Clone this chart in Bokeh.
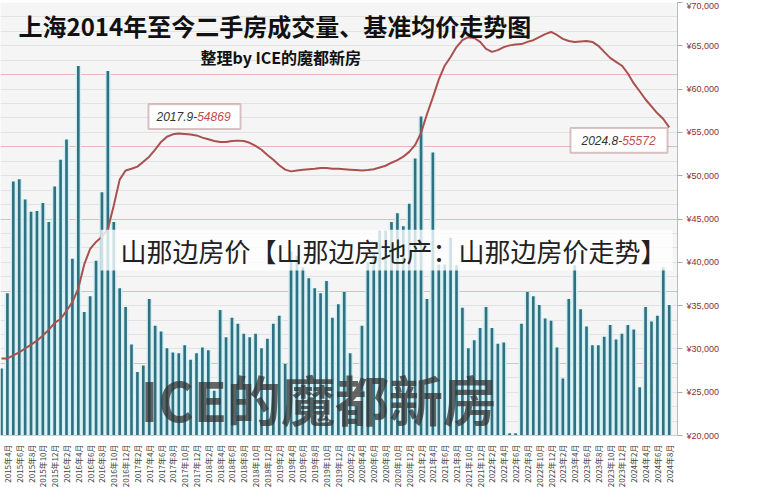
import math
from bokeh.plotting import figure
from bokeh.models import (Range1d, FixedTicker, Grid, Label, BoxAnnotation, ColumnDataSource)
from bokeh.embed import file_html
from bokeh.resources import INLINE

# ---------------- data ----------------
# months 2015-03 .. 2024-08
months = [f"{2015 + (2 + i) // 12}年{(2 + i) % 12 + 1}月" for i in range(114)]

volume = [9300, 19700, 35200, 35500, 32700, 31000, 31100, 32200, 29600, 34500,
          38200, 41000, 24500, 51200, 17100, 19300, 24200, 33700, 50500, 29600,
          20400, 17800, 12600, 8800, 9700, 18900, 15200, 14400, 12100, 11500,
          11400, 12500, 10500, 11400, 12200, 11800, 6200, 17400, 13600, 16300,
          15500, 14100, 13600, 14100, 12100, 13400, 15500, 16600, 9900, 25500,
          24900, 23300, 21800, 20400, 19700, 21400, 16300, 18200, 19900, 11400,
          4100, 15200, 24000, 25300, 28400, 28400, 29600, 30800, 29000, 32100,
          38400, 44200, 18900, 39200, 23700, 23700, 27400, 23600, 17700, 12100,
          13200, 14900, 17800, 14900, 12700, 12900, 300, 300, 15500, 19900,
          19300, 18100, 16200, 15900, 12200, 7900, 18900, 23600, 17500, 15100,
          12500, 12500, 13700, 15300, 13300, 14100, 15300, 14700, 6700, 17800,
          15800, 16600, 23300, 18100]

price = [28900, 28900, 29250, 29600, 30050, 30500, 30950, 31550, 32200, 33000,
         33450, 34400, 35400, 37000, 39750, 41550, 42350, 42950, 43850, 46550,
         49550, 50600, 50800, 51050, 51600, 52200, 53000, 53900, 54500, 54780,
         54869, 54820, 54750, 54650, 54400, 54200, 54000, 53900, 53900, 54000,
         54050, 54000, 53800, 53450, 53000, 52400, 51850, 51200, 50700, 50500,
         50600, 50700, 50750, 50800, 50900, 50900, 50800, 50800, 50750, 50700,
         50650, 50600, 50650, 50750, 50950, 51150, 51500, 51800, 52200, 52750,
         53550, 54950, 57100, 59050, 61100, 62700, 63700, 64850, 65650, 66000,
         65900, 65450, 64650, 64300, 64500, 64850, 65050, 65150, 65200, 65450,
         65650, 66000, 66350, 66600, 66250, 65800, 65550, 65450, 65500, 65550,
         65450, 65000, 64300, 63600, 63150, 62700, 61800, 60650, 59750, 58800,
         58000, 57200, 56550, 55572]

price_ticks = [20000, 25000, 30000, 35000, 40000, 45000, 50000, 55000, 60000, 65000, 70000]
label_idx = list(range(1, 114, 2))

TITLE = "上海2014年至今二手房成交量、基准均价走势图"
SUBTITLE = "整理by ICE的魔都新房"
WATERMARK = "山那边房价【山那边房地产：山那边房价走势】"
callouts = [("2017.9-", "54869"), ("2024.8-", "55572")]
legend_labels = ["套数", "均价"]

BAR_C = "#2f7181"
LINE_C = "#a8514f"

# ---------------- figure ----------------
X0, X1 = -0.17, 114.4
Y0, Y1 = 20000, 70000
FW, FH, TOP = 677, 438, 2

def X(px):
    return X0 + px * (X1 - X0) / FW

def Y(py):
    return Y1 - (py - TOP) * (Y1 - Y0) / FH

p = figure(width=765, height=490, x_range=Range1d(X0, X1), y_range=Range1d(Y0, Y1),
           y_axis_location="right", output_backend="svg", toolbar_location=None,
           min_border_left=0, min_border_right=88, min_border_top=TOP, min_border_bottom=50,
           title=None)
p.background_fill_color = "#f5f5f5"
p.border_fill_color = "#ffffff"
p.border_fill_alpha = 0
p.outline_line_color = None
p.xgrid.grid_line_color = None
p.ygrid.grid_line_color = None
p.extra_y_ranges = {"vol": Range1d(0, 60000)}

p.add_layout(Grid(dimension=1, ticker=FixedTicker(ticks=list(range(2000, 60001, 2000))),
                  y_range_name="vol", grid_line_color="#e2e2e2"))
p.add_layout(Grid(dimension=1, ticker=FixedTicker(ticks=list(range(10000, 60001, 10000))),
                  y_range_name="vol", grid_line_color="#e6b8b8"))

src = ColumnDataSource(dict(x=list(range(len(volume))), vol=volume, price=price))
p.vbar(x="x", top="vol", width=0.95, y_range_name="vol", source=src,
       fill_color="#d3f0f5", line_color=None)
p.vbar(x="x", top="vol", width=0.45, y_range_name="vol", source=src,
       fill_color=BAR_C, line_color=None)
p.line(x="x", y="price", source=src, line_color=LINE_C, line_width=2)

# axes
xa = p.xaxis[0]
xa.ticker = FixedTicker(ticks=label_idx)
xa.major_label_overrides = {i: months[i] for i in label_idx}
xa.major_label_orientation = math.pi / 2
xa.major_label_text_font_size = "8px"
xa.major_label_text_color = "#444444"
xa.major_label_text_font = "Noto Sans CJK SC"
xa.major_label_standoff = 3
xa.major_tick_line_color = None
xa.minor_tick_line_color = None
xa.axis_line_color = "#d0d0d0"

ya = p.yaxis[0]
ya.ticker = FixedTicker(ticks=price_ticks)
ya.major_label_overrides = {v: f"¥{v:,}" for v in price_ticks}
ya.major_label_text_font_size = "9px"
ya.major_label_text_color = "#8b3030"
ya.major_label_text_font = "Liberation Sans"
ya.major_label_standoff = 4
ya.major_tick_out = 5
ya.major_tick_in = 0
ya.major_tick_line_color = "#aaaaaa"
ya.minor_tick_line_color = None
ya.axis_line_color = "#bbbbbb"

# titles
p.add_layout(Label(x=X(18), y=Y(8), text=TITLE, text_font="Noto Sans CJK SC",
                   text_font_size="24px", text_font_style="bold", text_color="#111111",
                   text_baseline="top", text_align="left"))
p.add_layout(Label(x=X(200), y=Y(45), text=SUBTITLE, text_font="Noto Sans CJK SC",
                   text_font_size="16px", text_font_style="bold", text_color="#111111",
                   text_baseline="top", text_align="left"))

# annotation boxes
FS = 12
def text_w(s):
    w = 0.0
    for ch in s:
        w += 0.556 if ch.isdigit() else (0.278 if ch == "." else 0.333)
    return w * FS

for (a, bnum), (l, r, t, b, x_px, yc) in zip(callouts, [(148, 240, 105, 130, 156, 117.5),
                                                     (570, 667, 129, 154, 581, 141.5)]):
    p.add_layout(BoxAnnotation(left=X(l), right=X(r), top=Y(t), bottom=Y(b),
                               fill_color="white", fill_alpha=1.0,
                               line_color="#8b3a3a", line_width=2))
    p.add_layout(Label(x=X(x_px), y=Y(yc), text=a, text_font="Liberation Sans",
                       text_font_size=f"{FS}px", text_font_style="italic", text_color="#333333",
                       text_baseline="middle", text_align="left"))
    p.add_layout(Label(x=X(x_px + text_w(a)), y=Y(yc), text=bnum, text_font="Liberation Sans",
                       text_font_size=f"{FS}px", text_font_style="italic", text_color="#c0504d",
                       text_baseline="middle", text_align="left"))

# watermarks
p.add_layout(BoxAnnotation(left=X(100), right=X(672), top=Y(232), bottom=Y(273),
                           fill_color="white", fill_alpha=0.78, line_color=None))
p.add_layout(Label(x=X(120), y=Y(253), text=WATERMARK, text_font="Noto Sans CJK SC",
                   text_font_size="26px", text_font_style="normal", text_color="#222222",
                   text_baseline="middle", text_align="left"))
p.add_layout(Label(x=X(140), y=Y(403), text="ICE的魔都新房", text_font="Noto Sans CJK SC",
                   text_font_size="54px", text_font_style="bold", text_color="#333333",
                   text_alpha=0.75, text_baseline="middle", text_align="left"))
p.add_layout(Label(x=X(447), y=Y(454), text="●", text_font="DejaVu Sans",
                   text_font_size="20px", text_color="#888888", text_alpha=0.6,
                   text_baseline="middle", text_align="center"))
p.add_layout(Label(x=X(668), y=Y(460), text="都新房", text_font="Noto Sans CJK SC",
                   text_font_size="22px", text_color="#9a9a9a",
                   text_baseline="middle", text_align="left"))

# legend, drawn right of the price axis
ANCH = 670
p.add_layout(Label(x=X(ANCH), y=Y(238), x_offset=724 - ANCH, text="▬", text_font="DejaVu Sans",
                   text_font_size="16px", text_color=BAR_C, level="overlay",
                   text_baseline="middle", text_align="left"))
p.add_layout(Label(x=X(ANCH), y=Y(252), x_offset=724 - ANCH, text="—", text_font="DejaVu Sans",
                   text_font_size="16px", text_color="#5a3a3a", level="overlay",
                   text_baseline="middle", text_align="left"))
for lbl, py in zip(legend_labels, [238, 252]):
    p.add_layout(Label(x=X(ANCH), y=Y(py), x_offset=743 - ANCH, text=lbl,
                       text_font="Noto Sans CJK SC", level="overlay",
                       text_font_size="8px", text_color="#333333",
                       text_baseline="middle", text_align="left"))

open("out.html", "w").write(file_html(p, INLINE))
